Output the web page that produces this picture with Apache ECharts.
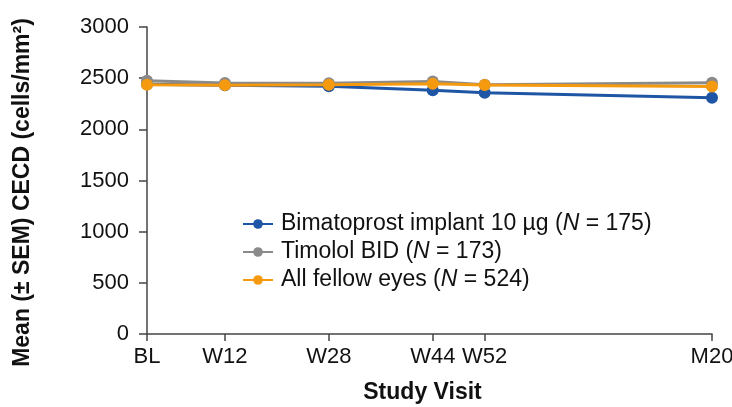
<!DOCTYPE html>
<html>
<head>
<meta charset="utf-8">
<script src="https://cdn.jsdelivr.net/npm/echarts@6/dist/echarts.min.js"></script>
<style>html,body{margin:0;padding:0;background:#fff}#c{width:732px;height:407px}</style>
</head>
<body>
<div id="c"></div>
<script>
var visitWeeks = [0, 12, 28, 44, 52, 87];
var visitLabels = ['BL', 'W12', 'W28', 'W44', 'W52', 'M20'];
var seriesNames = ['Bimatoprost implant 10 µg', 'Timolol BID', 'All fellow eyes'];
var seriesN = [175, 173, 524];
var bimatoprost = [2440, 2430, 2420, 2383, 2358, 2308];
var timolol = [2475, 2452, 2450, 2468, 2436, 2455];
var fellow = [2435, 2432, 2436, 2445, 2433, 2418];
var bimatoprostSem = [14, 14, 14, 16, 18, 22];
var timololSem = [14, 12, 12, 14, 14, 14];
var fellowSem = [8, 8, 8, 8, 8, 9];
var colors = ['#1f55a5', '#8a8a8a', '#f59a0f'];

var FONT = 'Liberation Sans, Arial, sans-serif';
var chart = echarts.init(document.getElementById('c'));
var means = [bimatoprost, timolol, fellow];
var sems = [bimatoprostSem, timololSem, fellowSem];

function pairs(arr) { return visitWeeks.map(function (w, i) { return [w, arr[i]]; }); }

var series = [];
means.forEach(function (m, k) {
  series.push({
    type: 'custom',
    silent: true,
    z: 2 + k,
    data: visitWeeks.map(function (w, i) { return [w, m[i] - sems[k][i], m[i] + sems[k][i]]; }),
    renderItem: function (params, api) {
      var lo = api.coord([api.value(0), api.value(1)]);
      var hi = api.coord([api.value(0), api.value(2)]);
      var hw = 5;
      var st = { stroke: colors[k], lineWidth: 2 };
      return { type: 'group', children: [
        { type: 'line', shape: { x1: lo[0], y1: lo[1], x2: hi[0], y2: hi[1] }, style: st },
        { type: 'line', shape: { x1: lo[0] - hw, y1: lo[1], x2: lo[0] + hw, y2: lo[1] }, style: st },
        { type: 'line', shape: { x1: hi[0] - hw, y1: hi[1], x2: hi[0] + hw, y2: hi[1] }, style: st }
      ]};
    }
  });
});
means.forEach(function (m, k) {
  series.push({
    name: seriesNames[k],
    type: 'line',
    z: 5 + k,
    data: pairs(m),
    symbol: 'circle',
    symbolSize: 12,
    lineStyle: { width: 3, color: colors[k] },
    itemStyle: { color: colors[k] },
    emphasis: { disabled: true }
  });
});

chart.setOption({
  animation: false,
  color: colors,
  grid: { left: 147, right: 20, top: 27, bottom: 73, containLabel: false, outerBoundsMode: 'none' },
  legend: {
    orient: 'vertical',
    left: 237,
    top: 206,
    itemWidth: 30,
    itemHeight: 12,
    itemGap: 2,
    data: seriesNames,
    formatter: function (name) {
      var i = seriesNames.indexOf(name);
      return '{a|' + name + ' (}{i|N}{a| = ' + seriesN[i] + ')}';
    },
    textStyle: {
      fontFamily: FONT,
      fontSize: 23,
      color: '#111',
      padding: [0, 0, 0, 3],
      lineHeight: 26,
      rich: {
        a: { fontFamily: FONT, fontSize: 23, color: '#111', lineHeight: 26 },
        i: { fontFamily: FONT, fontSize: 23, color: '#111', fontStyle: 'italic', lineHeight: 26 }
      }
    }
  },
  xAxis: {
    type: 'value',
    min: 0,
    max: 87,
    name: 'Study Visit',
    nameLocation: 'middle',
    nameGap: 47,
    nameTextStyle: { fontFamily: FONT, fontSize: 23, fontWeight: 'bold', color: '#111', padding: [0, 14, 0, 0] },
    splitLine: { show: false },
    axisLine: { show: true, lineStyle: { color: '#444', width: 1.5 } },
    axisTick: { show: true, customValues: visitWeeks, length: 7, lineStyle: { color: '#444', width: 1.5 } },
    axisLabel: {
      customValues: visitWeeks,
      margin: 12,
      fontFamily: FONT,
      fontSize: 22,
      color: '#111',
      formatter: function (v) { var i = visitWeeks.indexOf(v); return i >= 0 ? visitLabels[i] : ''; }
    }
  },
  yAxis: {
    type: 'value',
    min: 0,
    max: 3000,
    interval: 500,
    name: 'Mean (± SEM) CECD (cells/mm²)',
    nameLocation: 'middle',
    nameGap: 113,
    nameTextStyle: { fontFamily: FONT, fontSize: 23, fontWeight: 'bold', color: '#111', padding: [0, 24, 0, 0] },
    splitLine: { show: false },
    axisLine: { show: true, lineStyle: { color: '#444', width: 1.5 } },
    axisTick: { show: true, length: 8, lineStyle: { color: '#444', width: 1.5 } },
    axisLabel: { margin: 18, fontFamily: FONT, fontSize: 22, color: '#111', formatter: function (v) { return String(v); } }
  },
  series: series
});
</script>
</body>
</html>
